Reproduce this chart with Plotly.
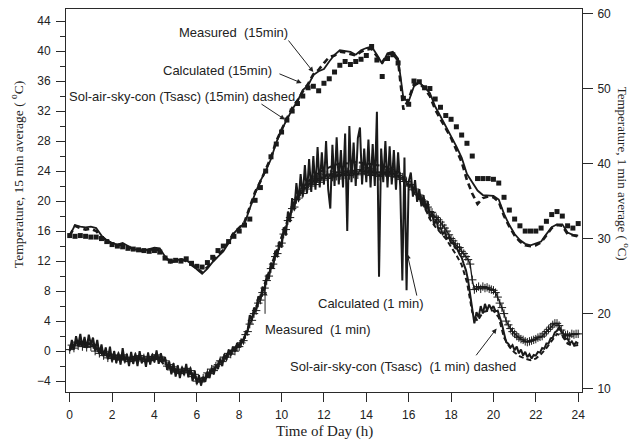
import numpy as np
import plotly.graph_objects as go

# ---------------- data ----------------
# 15-minute averages (left axis), every 0.25 h from 0 to 24
t15 = np.arange(97) * 0.25
meas15 = [15.4, 15.3, 15.4, 15.3, 15.2, 15.2, 15.0, 14.6, 14.2, 14.0, 13.9, 13.7,
          13.6, 13.5, 13.4, 13.3, 13.4, 13.2, 12.4, 12.0, 12.1, 12.0, 12.3, 11.7,
          11.3, 11.2, 11.8, 12.5, 13.4, 14.0, 14.6, 15.3, 16.0, 16.8, 17.6, 20.1,
          21.8, 24.0, 25.9, 27.6, 29.2, 30.8, 32.0, 33.0, 34.0, 35.1, 35.3, 34.7,
          35.7, 36.3, 37.2, 38.1, 38.6, 38.2, 38.6, 38.9, 39.4, 40.6, 38.8, 36.6,
          39.0, 39.5, 38.4, 33.7, 32.9, 36.0, 35.9, 35.1, 35.0, 33.6, 32.5, 31.4,
          30.9, 29.9, 28.8, 27.7, 26.0, 23.0, 23.0, 23.0, 22.9, 22.4, 20.5, 18.8,
          17.6, 16.7, 16.0, 16.0, 16.0, 16.4, 17.3, 18.2, 18.6, 18.0, 16.7, 16.4, 17.0]
calc15 = [15.4, 16.8, 16.6, 16.5, 16.6, 16.4, 15.4, 14.8, 14.4, 14.2, 14.4, 14.0,
          13.6, 13.5, 13.4, 13.6, 13.8, 13.7, 12.6, 11.8, 12.1, 12.3, 12.1, 11.6,
          10.9, 10.3, 11.0, 11.9, 12.6, 13.3, 14.4, 15.7, 16.5, 17.0, 19.0, 21.0,
          22.7, 24.0, 25.6, 27.8, 29.5, 30.9, 32.2, 33.3, 34.8, 35.4, 36.8, 37.3,
          37.6, 38.6, 39.5, 40.1, 40.0, 39.9, 39.5, 40.1, 40.4, 40.6, 39.5, 38.3,
          39.7, 39.9, 39.0, 33.7, 33.3, 35.3, 35.8, 35.2, 34.4, 32.6, 31.3, 30.0,
          28.7, 27.3, 25.8, 23.6, 22.5, 21.4, 20.8, 20.7, 20.7, 20.2, 18.3, 16.8,
          15.6, 14.8, 14.3, 14.1, 14.3, 14.6, 15.6, 16.5, 16.9, 16.9, 15.8, 15.5, 15.4]
tsasc15 = [15.4, 16.7, 16.4, 16.2, 16.3, 16.0, 15.2, 14.7, 14.3, 14.1, 14.2, 13.9,
           13.6, 13.5, 13.3, 13.5, 13.6, 13.4, 12.5, 11.9, 12.0, 12.2, 12.0, 11.5,
           10.9, 10.5, 11.2, 12.0, 12.8, 13.5, 14.6, 15.8, 16.4, 17.2, 19.2, 21.2,
           22.6, 24.2, 25.8, 28.0, 29.6, 31.0, 32.4, 33.4, 34.6, 35.6, 36.9, 37.5,
           38.4, 39.2, 39.4, 39.9, 39.8, 39.6, 39.4, 39.9, 40.2, 40.3, 39.3, 38.5,
           39.5, 39.7, 38.7, 32.2, 33.6, 35.6, 35.7, 35.0, 34.0, 32.2, 30.9, 29.6,
           28.4, 26.8, 25.2, 22.8, 21.0, 19.6, 20.4, 20.6, 20.5, 19.9, 18.0, 16.6,
           15.4, 14.6, 14.1, 14.0, 14.1, 14.5, 15.5, 16.4, 16.8, 16.7, 15.6, 15.4, 15.3]

# 1-minute data (right axis), sampled every 0.1 h from 0 to 24
t1 = np.arange(241) * 0.1
calc1 = [15.0, 16.5, 15.2, 17.0, 15.8, 17.3, 15.6, 16.9, 15.4, 17.2,
         15.9, 16.8, 15.1, 16.5, 14.6, 15.9, 14.3, 15.5, 13.9, 15.6,
         13.6, 15.0, 13.4, 14.8, 13.2, 15.4, 13.5, 14.6, 13.0, 14.9,
         13.3, 14.7, 13.0, 15.0, 13.4, 14.4, 12.9, 14.8, 13.2, 14.6,
         13.5, 15.1, 13.3, 14.7, 13.6, 14.2, 12.5, 13.6, 11.9, 13.4,
         11.6, 13.1, 11.4, 12.9, 11.8, 13.3, 11.5, 12.8, 11.0, 12.4,
         10.6, 11.8, 10.4, 11.6, 10.9, 12.3, 11.4, 12.8, 11.9, 13.1,
         12.6, 14.0, 13.0, 14.6, 13.8, 15.2, 14.4, 15.6, 14.9, 16.1,
         15.6, 16.5, 16.2, 17.5, 17.8, 19.8, 19.2, 20.8, 20.5, 22.3,
         21.8, 23.6, 23.0, 25.2, 24.6, 26.8, 26.0, 28.4, 27.6, 29.6,
         28.8, 31.5, 30.4, 33.6, 32.2, 35.4, 33.8, 37.4, 35.0, 38.6,
         35.6, 39.8, 36.0, 40.6, 36.2, 41.0, 36.5, 42.2, 36.8, 41.5,
         37.2, 43.0, 36.6, 34.0, 42.5, 37.0, 43.5, 37.2, 41.8, 36.8,
         44.0, 31.0, 45.0, 37.5, 42.8, 37.0, 43.4, 44.8, 37.2, 42.0,
         37.5, 43.2, 36.8, 42.6, 37.0, 46.9, 24.9, 42.0, 37.5, 43.0,
         36.8, 42.3, 37.2, 41.8, 36.5, 41.5, 37.0, 24.4, 40.8, 23.1,
         37.6, 38.8, 35.6, 37.8, 34.9, 36.6, 34.3, 35.8, 33.8, 35.0,
         32.6, 33.6, 31.8, 32.6, 31.2, 31.5, 30.6, 30.9, 30.0, 30.2,
         29.4, 29.5, 28.7, 28.6, 27.9, 27.5, 26.6, 25.8, 24.5, 22.6,
         20.8, 18.7, 20.2, 19.5, 21.0, 20.0, 21.3, 20.4, 21.2, 20.6,
         21.0, 20.3, 20.4, 19.6, 18.6, 17.4, 16.2, 16.0, 15.5, 15.8,
         15.1, 15.6, 14.7, 15.2, 14.4, 14.9, 14.2, 14.6, 14.0, 14.5,
         14.4, 14.9, 14.8, 15.4, 15.3, 16.0, 16.0, 16.7, 16.8, 17.5,
         17.7, 18.2, 17.6, 17.3, 16.6, 16.7, 16.0, 16.3, 15.8, 16.2,
         16.0]
meas1 = [15.2, 15.8, 15.4, 16.2, 15.7, 16.3, 15.6, 16.0, 15.5, 16.1,
         15.6, 15.9, 15.0, 15.4, 14.7, 15.0, 14.4, 14.9, 14.1, 14.6,
         14.0, 14.5, 13.9, 14.4, 13.8, 14.5, 13.9, 14.2, 13.6, 14.1,
         13.8, 14.3, 13.7, 14.4, 13.9, 14.1, 13.6, 14.3, 13.8, 14.2,
         14.0, 14.5, 13.9, 14.2, 13.8, 13.7, 13.0, 13.2, 12.5, 12.9,
         12.2, 12.6, 12.0, 12.5, 12.2, 12.7, 12.1, 12.4, 11.6, 11.9,
         11.0, 11.3, 10.9, 11.4, 11.5, 12.1, 12.0, 12.6, 12.4, 13.0,
         13.2, 13.7, 13.6, 14.2, 14.2, 14.7, 14.6, 15.1, 15.0, 15.5,
         15.6, 16.1, 16.4, 17.2, 17.6, 18.6, 19.1, 20.0, 20.4, 21.4,
         21.8, 22.8, 23.4, 24.4, 25.0, 26.0, 26.6, 27.6, 28.0, 29.0,
         29.4, 30.6, 31.2, 32.4, 32.8, 34.0, 34.2, 35.2, 35.4, 36.2,
         36.0, 36.8, 36.6, 37.4, 37.0, 37.8, 37.2, 38.0, 37.5, 38.2,
         37.8, 38.5, 38.0, 38.6, 38.2, 38.9, 38.3, 38.8, 38.4, 39.0,
         38.5, 38.9, 38.4, 39.1, 38.6, 39.0, 38.5, 39.2, 38.7, 39.0,
         38.6, 39.0, 38.4, 38.9, 38.5, 38.8, 38.3, 38.9, 38.6, 38.8,
         38.5, 38.9, 38.3, 38.7, 38.2, 38.4, 37.9, 38.2, 37.6, 37.6,
         37.0, 37.2, 36.5, 36.6, 35.9, 35.8, 35.2, 35.0, 34.5, 34.2,
         33.6, 33.5, 33.0, 32.8, 32.5, 32.2, 31.8, 31.4, 31.0, 30.5,
         30.0, 29.7, 29.3, 28.9, 28.8, 28.3, 28.0, 27.6, 27.2, 26.6,
         24.5, 23.2, 23.4, 23.6, 23.3, 23.6, 23.4, 23.5, 23.3, 23.2,
         23.1, 22.8, 22.2, 21.4, 20.8, 20.0, 19.0, 18.5, 18.0, 17.6,
         17.3, 17.0, 16.8, 16.6, 16.5, 16.3, 16.2, 16.3, 16.4, 16.5,
         16.6, 16.8, 16.9, 17.0, 17.3, 17.6, 17.9, 18.2, 18.5, 18.7,
         18.7, 18.4, 17.8, 17.3, 17.1, 17.2, 17.0, 17.3, 17.2, 17.3,
         17.3]
tS = np.arange(97) * 0.25
tsasc1 = [15.3, 15.6, 15.9, 16.0, 15.9, 15.4, 14.8, 14.4, 14.2, 14.1, 14.0, 13.9,
          13.9, 14.0, 13.9, 13.8, 14.0, 13.8, 13.1, 12.6, 12.2, 12.3, 12.4, 12.0,
          11.2, 11.0, 11.6, 12.4, 13.3, 14.1, 14.8, 15.4, 16.0, 16.8, 18.6, 20.6,
          22.4, 24.4, 26.4, 28.4, 30.2, 32.2, 34.0, 35.6, 36.8, 37.6, 38.3, 38.8,
          39.2, 39.5, 39.8, 40.0, 40.0, 40.1, 40.2, 40.1, 40.0, 40.0, 39.9, 39.7,
          39.5, 39.3, 39.0, 38.2, 37.0, 36.2, 35.3, 34.2, 32.6, 31.6, 30.8, 30.0,
          28.9, 27.8, 26.5, 24.2, 20.2, 19.0, 20.2, 20.4, 20.4, 19.5, 16.8, 15.6,
          14.8, 14.3, 14.0, 13.8, 14.0, 14.6, 15.4, 16.3, 17.3, 17.0, 16.0, 15.7, 15.8]

x_ticks = list(range(0, 25, 2))
y_left_ticks = list(range(-4, 45, 4))
y_right_ticks = list(range(10, 61, 10))

INK = "#1a1a1a"
AX = "#2a2a2a"

fig = go.Figure()

# 15-min traces (left axis)
fig.add_trace(go.Scatter(x=t15, y=tsasc15, mode="lines", yaxis="y",
                         line=dict(color=INK, width=2.6, dash="6px,4px"), showlegend=False))
fig.add_trace(go.Scatter(x=t15, y=calc15, mode="lines", yaxis="y",
                         line=dict(color=INK, width=1.8), showlegend=False))
fig.add_trace(go.Scatter(x=t15, y=meas15, mode="markers", yaxis="y",
                         marker=dict(symbol="square", size=5, color=INK), showlegend=False))

# 1-min traces (right axis)
fig.add_trace(go.Scatter(x=t1, y=meas1, mode="lines+markers", yaxis="y2",
                         line=dict(color=INK, width=1.3),
                         marker=dict(symbol="cross-thin", size=6,
                                     line=dict(color=INK, width=1)), showlegend=False))
fig.add_trace(go.Scatter(x=tS, y=tsasc1, mode="lines", yaxis="y2",
                         line=dict(color=INK, width=2, dash="5px,3px"), showlegend=False))
fig.add_trace(go.Scatter(x=t1, y=calc1, mode="lines", yaxis="y2",
                         line=dict(color=INK, width=2.0), showlegend=False))

tickfont = dict(family="Liberation Sans, Arial, sans-serif", size=12, color="#222")
titlefont = dict(family="Liberation Serif, Times New Roman, serif", size=14, color="#222")

fig.update_layout(
    width=635, height=441,
    margin=dict(l=66, r=53, t=7, b=49),
    paper_bgcolor="white", plot_bgcolor="white",
    xaxis=dict(range=[-0.175, 24.18], tickvals=x_ticks, ticks="outside", ticklen=9,
               tickwidth=1, tickcolor=AX, showline=True, linecolor=AX, linewidth=1,
               mirror=True, showgrid=False, zeroline=False, tickfont=tickfont,
               ticklabelstandoff=3),
    yaxis=dict(range=[-5.45, 45.6], tickvals=y_left_ticks, ticks="outside", ticklen=9,
               tickwidth=1, tickcolor=AX, showline=True, linecolor=AX, linewidth=1,
               showgrid=False, zeroline=False, tickfont=tickfont, ticklabelstandoff=3,
               minor=dict(dtick=2, tick0=0, ticks="outside", ticklen=5, tickcolor=AX, showgrid=False)),
    yaxis2=dict(range=[9.55, 60.6], tickvals=y_right_ticks, ticks="outside", ticklen=10,
                tickwidth=1, tickcolor=AX, showline=True, linecolor=AX, linewidth=1,
                overlaying="y", side="right", showgrid=False, zeroline=False,
                tickfont=tickfont, ticklabelstandoff=2),
)

# axis titles
fig.add_annotation(text="Time of Day (h)", xref="paper", yref="paper",
                   x=0.5, y=-0.104, xanchor="center", yanchor="middle",
                   showarrow=False, font=dict(titlefont, size=15))
fig.add_annotation(text="Temperature, 15 min average ( <sup>o</sup>C)", xref="paper", yref="paper",
                   x=-0.094, y=0.5675, xanchor="center", yanchor="middle", textangle=-90,
                   showarrow=False, font=dict(titlefont, size=13.5))
fig.add_annotation(text="Temperature, 1 min average ( <sup>o</sup>C)", xref="paper", yref="paper",
                   x=1.0814, y=0.57, xanchor="center", yanchor="middle", textangle=90,
                   showarrow=False, font=dict(titlefont, size=13))

annfont = dict(family="Liberation Sans, Arial, sans-serif", size=13, color="#222")
labels = [
    ("Measured  (15min)", 7.75, 42.44),
    ("Calculated (15min)", 6.975, 37.40),
    ("Sol-air-sky-con (Tsasc) (15min) dashed", 5.28, 33.95),
    ("Calculated (1 min)", 14.20, 6.41),
    ("Measured  (1 min)", 11.69, 2.88),
    ("Sol-air-sky-con (Tsasc)  (1 min) dashed", 15.71, -2.08),
]
for txt, xx, yy in labels:
    fig.add_annotation(text=txt.replace("  ", "&nbsp; "), x=xx, y=yy, xref="x", yref="y",
                       showarrow=False, font=annfont)

arrows = [
    (10.27, 41.6, 11.50, 37.2),
    (9.83, 37.04, 10.95, 35.72),
    (8.98, 33.06, 10.16, 30.86),
    (16.40, 7.20, 15.93, 12.96),
    (9.22, 4.77, 9.22, 8.09),
    (19.13, -0.76, 20.15, 3.01),
]
for ax_, ay_, hx, hy in arrows:
    fig.add_annotation(text="", x=hx, y=hy, ax=ax_, ay=ay_, xref="x", yref="y",
                       axref="x", ayref="y", showarrow=True, arrowhead=2, arrowsize=1,
                       arrowwidth=1, arrowcolor="#222")

fig.write_html("out.html")
